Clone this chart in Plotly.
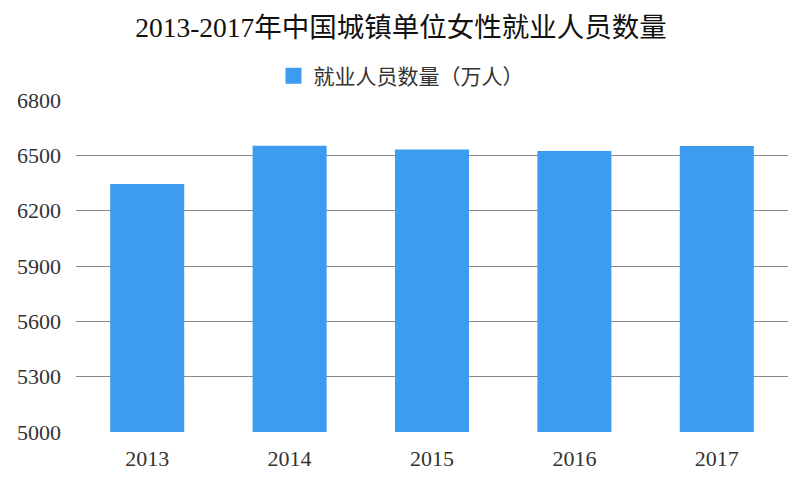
import plotly.graph_objects as go

years = ["2013", "2014", "2015", "2016", "2017"]
values = [6345, 6552, 6531, 6523, 6550]
series_name = "就业人员数量（万人）"
y_ticks = [5000, 5300, 5600, 5900, 6200, 6500, 6800]

FONT = "Liberation Serif, Noto Sans CJK SC, serif"
BLUE = "#3e9cf0"

# page body has an 8px default margin; size the figure so it fills the window exactly
W, H = 798, 477

fig = go.Figure()
fig.add_trace(go.Bar(x=years, y=values, name=series_name,
                     marker=dict(color=BLUE, line=dict(width=0)),
                     width=0.52, showlegend=False))
# legend entry with a larger square swatch
fig.add_trace(go.Scatter(x=[None], y=[None], mode="markers", name=series_name,
                         marker=dict(symbol="square", size=16, color=BLUE),
                         showlegend=True))

fig.update_layout(
    width=W, height=H,
    margin=dict(l=68, r=18, t=92, b=53, autoexpand=False),
    paper_bgcolor="white", plot_bgcolor="white",
    font=dict(family=FONT, color="#222"),
    title=dict(text="2013-2017年中国城镇单位女性就业人员数量", x=393 / W, xanchor="center",
               xref="container",
               y=1 - 19 / H, yanchor="middle", yref="container",
               font=dict(size=27.5, family=FONT, color="#111")),
    legend=dict(orientation="h", x=393 / W, xanchor="center", xref="container",
                y=1 - 68 / H, yanchor="middle", yref="container",
                font=dict(size=21, family=FONT, color="#333"), itemsizing="trace",
                itemwidth=30),
    xaxis=dict(showgrid=False, showline=False, ticks="", automargin=False,
               ticklabelstandoff=11,
               tickfont=dict(size=22, family=FONT, color="#333")),
    yaxis=dict(range=[5000, 6800], tickvals=y_ticks, showgrid=True, gridcolor="#8a8a8a", gridwidth=1,
               zeroline=False, showline=False, ticks="", ticklabelstandoff=14, automargin=False,
               tickfont=dict(size=22, family=FONT, color="#333")),
)
fig.write_html("out.html")
